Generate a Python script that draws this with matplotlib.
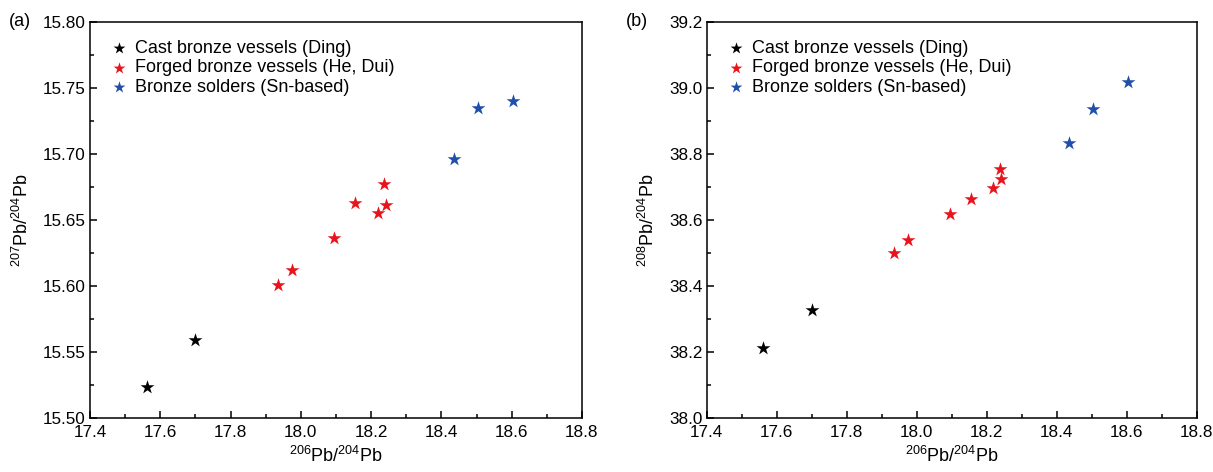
import matplotlib
matplotlib.use("Agg")
import matplotlib.pyplot as plt
from matplotlib.ticker import MultipleLocator

plt.rcParams['font.family'] = ['Liberation Sans', 'DejaVu Sans']
plt.rcParams['mathtext.fontset'] = 'custom'
plt.rcParams['mathtext.rm'] = 'Liberation Sans'
plt.rcParams['mathtext.it'] = 'Liberation Sans:italic'

# data
cast_206 = [17.562, 17.700]
cast_207 = [15.524, 15.559]
cast_208 = [38.214, 38.328]

forged_206 = [17.934, 17.974, 18.095, 18.155, 18.219, 18.238, 18.242]
forged_207 = [15.601, 15.612, 15.636, 15.663, 15.655, 15.677, 15.661]
forged_208 = [38.501, 38.540, 38.618, 38.663, 38.698, 38.755, 38.723]

solder_206 = [18.436, 18.505, 18.605]
solder_207 = [15.696, 15.735, 15.740]
solder_208 = [38.832, 38.936, 39.017]

labels = ["Cast bronze vessels (Ding)",
          "Forged bronze vessels (He, Dui)",
          "Bronze solders (Sn-based)"]
colors = ["black", "#e8141c", "#1f4fa8"]

fig = plt.figure(figsize=(12.13, 4.72), dpi=100)
ax1 = fig.add_axes([0.0742, 0.1138, 0.4056, 0.8405])
ax2 = fig.add_axes([0.5826, 0.1138, 0.4040, 0.8405])


def draw(ax, ys, ylim, major, minor, ylabel, fmt):
    xs = [cast_206, forged_206, solder_206]
    for x, y, c, lab in zip(xs, ys, colors, labels):
        ax.scatter(x, y, marker="*", s=110, color=c, linewidths=0, label=lab)
    ax.set_xlim(17.4, 18.8)
    ax.set_ylim(*ylim)
    ax.xaxis.set_major_locator(MultipleLocator(0.2))
    ax.xaxis.set_minor_locator(MultipleLocator(0.1))
    ax.yaxis.set_major_locator(MultipleLocator(major))
    ax.yaxis.set_minor_locator(MultipleLocator(minor))
    ax.yaxis.set_major_formatter(plt.FormatStrFormatter(fmt))
    ax.xaxis.set_major_formatter(plt.FormatStrFormatter("%.1f"))
    ax.tick_params(which="both", direction="in", top=False, right=False,
                   labelsize=12.3, width=1.1)
    ax.tick_params(which="major", length=5, pad=3)
    ax.tick_params(which="minor", length=3)
    ax.tick_params(axis="x", which="major", pad=5)
    for sp in ax.spines.values():
        sp.set_linewidth(1.1)
    ax.set_xlabel(r"$^{206}$Pb/$^{204}$Pb", fontsize=13, labelpad=4)
    ax.set_ylabel(ylabel, fontsize=13, labelpad=8)
    ax.legend(loc="upper left", frameon=False, fontsize=13, markerscale=0.85,
              handletextpad=0.3, labelspacing=0.15, borderaxespad=0.6,
              handlelength=1.2, scatterpoints=1)


draw(ax1, [cast_207, forged_207, solder_207], (15.50, 15.80), 0.05, 0.025,
     r"$^{207}$Pb/$^{204}$Pb", "%.2f")
draw(ax2, [cast_208, forged_208, solder_208], (38.0, 39.2), 0.2, 0.1,
     r"$^{208}$Pb/$^{204}$Pb", "%.1f")

fig.text(0.007, 0.955, "(a)", fontsize=13, va="center")
fig.text(0.516, 0.955, "(b)", fontsize=13, va="center")

fig.savefig("out.png", dpi=100)
